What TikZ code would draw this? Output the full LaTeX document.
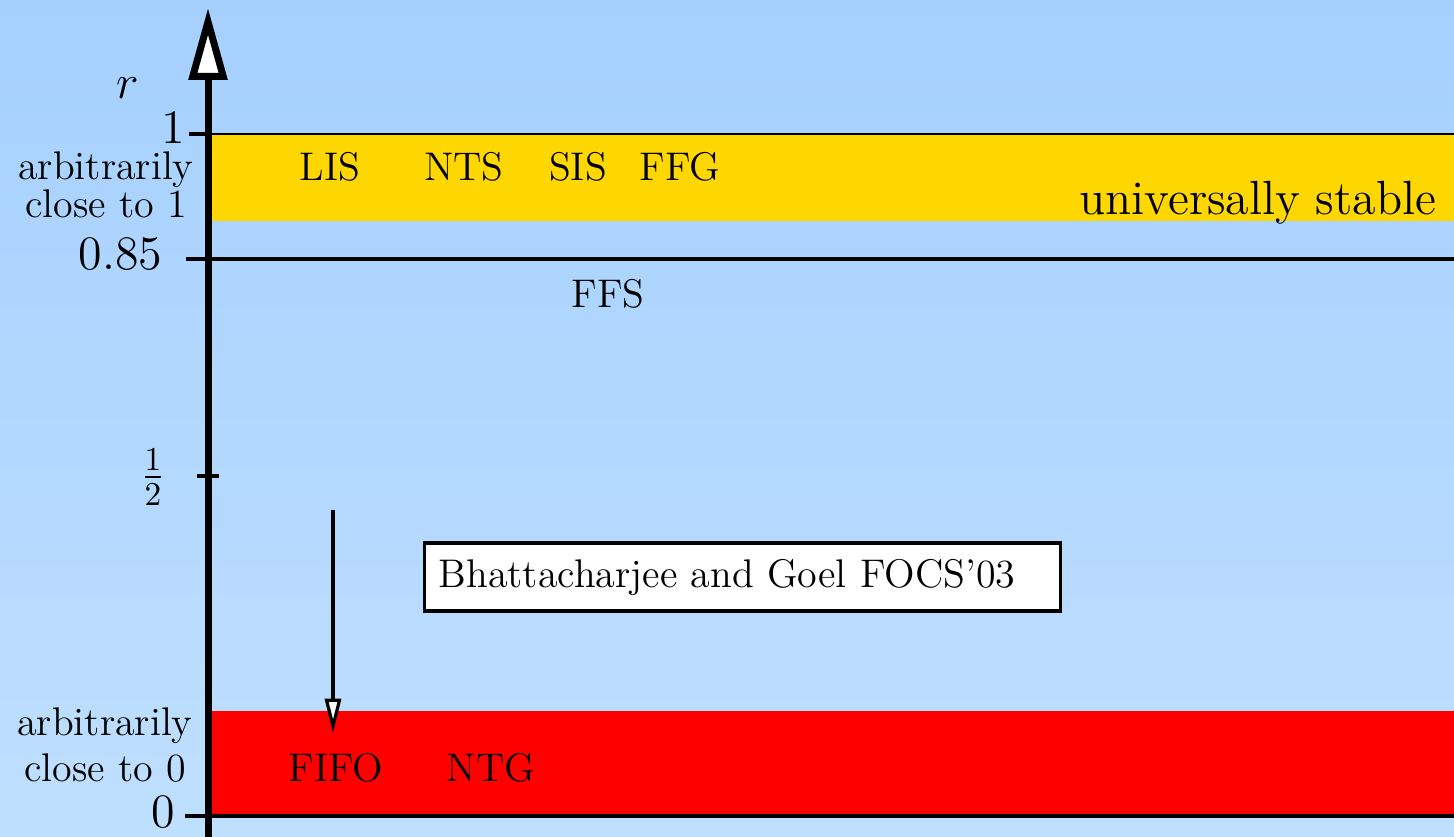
\documentclass[tikz,border=0pt]{standalone}
\usetikzlibrary{arrows.meta,calc}
\definecolor{SkyTop}{RGB}{165,208,254}
\definecolor{SkyBottom}{RGB}{191,223,254}
\definecolor{Gold}{RGB}{255,215,0}
\tikzset{%
	% Style of the r axis
	Axis/.style={line width=2.1pt,-{Triangle[open,fill=white,length=21.6pt,width=11.3pt]}},
	% Style of the ticks and level lines
	Tick/.style={line width=1.2pt},
	Level/.style={line width=0.95pt},
	% Style of the axis labels
	AxisLabel/.style={font=\Large,inner sep=0},
	SideLabel/.style={font=\large,align=center,inner sep=0},
	% Style of the policy names
	Policy/.style={font=\large,inner sep=0},
	% Style of the boxed reference
	RefBox/.style={draw,fill=white,line width=0.95pt,font=\large,minimum height=20.4pt,
		inner xsep=4.2pt,text width=182.4pt,align=left},
	% Style of the down arrow
	DownArrow/.style={line width=0.95pt,-{Triangle[open,fill=white,length=10.3pt,width=4.8pt]}},
}

\begin{document}
\begin{tikzpicture}[x=0.3pt,y=-0.3pt]

%~~~~~~~~~~~~~~~~~~~~~~~~~~~~~~~~~~~~~~~~~~~~~~~~~~
% Background and bands
%~~~~~~~~~~~~~~~~~~~~~~~~~~~~~~~~~~~~~~~~~~~~~~~~~~
\shade[top color=SkyTop,bottom color=SkyBottom] (0,0) rectangle (1454,837);
\useasboundingbox (0,0) rectangle (1454,837);
\fill[Gold] (208,134) rectangle (1454,221);
\fill[red] (208,711) rectangle (1454,816);

%~~~~~~~~~~~~~~~~~~~~~~~~~~~~~~~~~~~~~~~~~~~~~~~~~~
% Set Coordinates
%~~~~~~~~~~~~~~~~~~~~~~~~~~~~~~~~~~~~~~~~~~~~~~~~~~
\coordinate (AxisLow) at (208, 845);
\coordinate (AxisHigh) at (208, 8);
\coordinate (TickOne) at (189, 134);
\coordinate (EndOne) at (1454, 134);
\coordinate (TickRate) at (186, 259);
\coordinate (EndRate) at (1454, 259);
\coordinate (TickHalfL) at (197, 476);
\coordinate (TickHalfR) at (219, 476);
\coordinate (TickZero) at (185, 816);
\coordinate (EndZero) at (1454, 816);
\coordinate (ArrowTop) at (333, 510);
\coordinate (ArrowTip) at (333, 733);

%~~~~~~~~~~~~~~~~~~~~~~~~~~~~~~~~~~~~~~~~~~~~~~~~~~
% Set Lines
%~~~~~~~~~~~~~~~~~~~~~~~~~~~~~~~~~~~~~~~~~~~~~~~~~~
\draw[Tick] (TickOne) -- (AxisHigh |- TickOne);
\draw[line width=0.65pt] (AxisHigh |- TickOne) -- (EndOne);
\draw[Level] (TickRate) -- (EndRate);
\draw[Level] (TickHalfL) -- (TickHalfR);
\draw[Tick] (TickZero) -- (EndZero);
\draw[DownArrow] (ArrowTop) -- (ArrowTip);
\draw[Axis] (AxisLow) -- (AxisHigh);

%~~~~~~~~~~~~~~~~~~~~~~~~~~~~~~~~~~~~~~~~~~~~~~~~~~
% Set Labels
%~~~~~~~~~~~~~~~~~~~~~~~~~~~~~~~~~~~~~~~~~~~~~~~~~~
\node[AxisLabel] (LabR) at (128, 88) {$r$};
\node[AxisLabel,anchor=base east] (LabOne) at (186, 144) {1};
\node[AxisLabel,anchor=base east] (LabRate) at (163, 270) {0.85};
\node[AxisLabel,anchor=base east] (LabZero) at (176, 827) {0};
\node[AxisLabel] (LabHalf) at (153, 477) {$\frac{1}{2}$};
\node[SideLabel] (NearOne) at (106, 185) {arbitrarily\\[-2.5pt]close to 1};
\node[SideLabel] (NearZero) at (105, 745) {arbitrarily\\close to 0};

\node[Policy] (LIS) at (330, 167) {LIS};
\node[Policy] (NTS) at (464, 167) {NTS};
\node[Policy] (SIS) at (578, 167) {SIS};
\node[Policy] (FFG) at (680, 167) {FFG};
\node[Policy,font=\Large,anchor=base east] (Stable) at (1437, 215) {universally stable};
\node[Policy] (FFS) at (608, 294) {FFS};
\node[Policy] (FIFO) at (336, 768) {FIFO};
\node[Policy] (NTG) at (491, 768) {NTG};

\node[RefBox,anchor=west] (Ref) at (423, 577) {Bhattacharjee and Goel FOCS'03};

\end{tikzpicture}
\end{document}
